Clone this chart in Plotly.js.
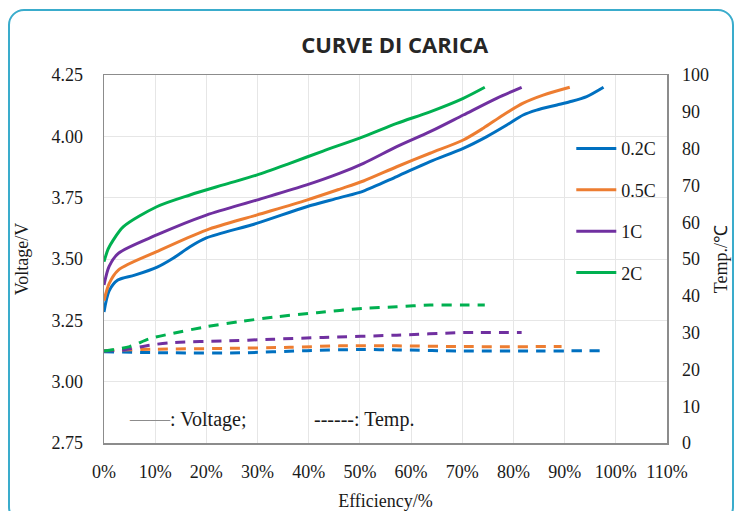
<!DOCTYPE html>
<html>
<head>
<meta charset="utf-8">
<script src="https://cdn.plot.ly/plotly-3.0.1.min.js"></script>
<style>
  html, body { margin: 0; padding: 0; background: #ffffff; }
  #wrap { position: relative; width: 735px; height: 511px; overflow: hidden; }
  #chart { width: 735px; height: 511px; }
  #frame { position: absolute; left: 8px; top: 9px; width: 722px; height: 510px;
           border: 2px solid #3aaccc; border-radius: 16px; pointer-events: none; }
</style>
</head>
<body>
<div id="wrap">
  <div id="chart"></div>
  <div id="frame"></div>
</div>
<script>
// ---- Data ----
const seriesNames = ["0.2C", "0.5C", "1C", "2C"];

// Voltage curves (x = efficiency fraction, y = voltage V)
const v02x = [0, 0.01, 0.027, 0.06, 0.104, 0.135, 0.168, 0.20, 0.298, 0.396, 0.461, 0.507, 0.572, 0.637, 0.702, 0.748, 0.787, 0.819, 0.845, 0.885, 0.91, 0.943, 0.976];
const v02y = [3.284, 3.37, 3.414, 3.434, 3.467, 3.503, 3.55, 3.586, 3.645, 3.713, 3.75, 3.777, 3.836, 3.897, 3.951, 3.999, 4.046, 4.087, 4.107, 4.128, 4.141, 4.162, 4.20];

const v05x = [0, 0.01, 0.028, 0.103, 0.20, 0.298, 0.396, 0.461, 0.507, 0.572, 0.637, 0.702, 0.741, 0.78, 0.819, 0.858, 0.91];
const v05y = [3.33, 3.40, 3.455, 3.53, 3.618, 3.679, 3.74, 3.785, 3.818, 3.876, 3.931, 3.985, 4.033, 4.087, 4.135, 4.168, 4.20];

const v1x = [0, 0.01, 0.028, 0.103, 0.20, 0.298, 0.396, 0.461, 0.507, 0.572, 0.637, 0.702, 0.767, 0.816];
const v1y = [3.394, 3.47, 3.523, 3.598, 3.679, 3.74, 3.802, 3.85, 3.89, 3.958, 4.019, 4.087, 4.155, 4.20];

const v2x = [0, 0.008, 0.018, 0.038, 0.103, 0.168, 0.233, 0.298, 0.363, 0.428, 0.507, 0.572, 0.637, 0.702, 0.744];
const v2y = [3.489, 3.54, 3.577, 3.632, 3.713, 3.761, 3.802, 3.842, 3.89, 3.94, 3.999, 4.053, 4.10, 4.155, 4.20];

// Temperature curves (x = efficiency fraction, y = temperature °C)
const t02x = [0, 0.135, 0.266, 0.396, 0.50, 0.572, 0.70, 0.85, 0.976];
const t02y = [24.8, 24.5, 24.5, 25.1, 25.4, 25.3, 25.0, 25.0, 25.1];

const t05x = [0, 0.103, 0.233, 0.363, 0.461, 0.572, 0.702, 0.894];
const t05y = [25.1, 25.5, 25.7, 26.0, 26.4, 26.4, 26.2, 26.2];

const t1x = [0, 0.038, 0.09, 0.135, 0.233, 0.33, 0.428, 0.572, 0.702, 0.816];
const t1y = [25.0, 25.3, 26.6, 27.3, 27.7, 28.2, 28.7, 29.3, 30.0, 30.0];

const t2x = [0, 0.05, 0.09, 0.135, 0.20, 0.266, 0.337, 0.416, 0.507, 0.572, 0.637, 0.702, 0.744];
const t2y = [25.0, 26.2, 28.4, 29.8, 31.6, 33.0, 34.3, 35.4, 36.6, 37.0, 37.5, 37.5, 37.5];

// ---- Styles ----
const colors = ["#0070C0", "#ED7D31", "#7030A0", "#00B050"];
const serif = "Liberation Serif";
const fs = 18;

const volt = [[v02x, v02y], [v05x, v05y], [v1x, v1y], [v2x, v2y]];
const temp = [[t02x, t02y], [t05x, t05y], [t1x, t1y], [t2x, t2y]];

const traces = [];
volt.forEach((d, i) => {
  traces.push({
    x: d[0], y: d[1], type: "scatter", mode: "lines", name: seriesNames[i],
    legendgroup: "g" + i,
    line: { color: colors[i], width: 3, shape: "spline", smoothing: 0.8 },
    yaxis: "y", hoverinfo: "x+y"
  });
});
temp.forEach((d, i) => {
  traces.push({
    x: d[0], y: d[1], type: "scatter", mode: "lines", name: seriesNames[i] + " Temp.",
    showlegend: false,
    line: { color: colors[i], width: 3, dash: "10px,8px", shape: "spline", smoothing: 0.8 },
    yaxis: "y2", hoverinfo: "x+y"
  });
});

const tf = { family: serif, size: fs, color: "#1a1a1a" };
const af = { family: serif, size: 20, color: "#1a1a1a" };

const layout = {
  width: 735, height: 511,
  margin: { l: 104, r: 68, t: 75, b: 68 },
  paper_bgcolor: "#ffffff", plot_bgcolor: "#ffffff",
  title: {
    text: "<b>CURVE DI CARICA</b>",
    font: { family: "Open Sans", size: 22, color: "#262626" },
    x: 0.537, xanchor: "center", y: 0.912, yanchor: "middle"
  },
  font: tf,
  showlegend: true,
  legend: {
    x: 0.83, y: 0.85, xanchor: "left", yanchor: "top",
    bgcolor: "rgba(0,0,0,0)", font: tf,
    tracegroupgap: 15, itemwidth: 40
  },
  xaxis: {
    range: [0, 1.1], dtick: 0.1, tick0: 0, tickformat: ".0%",
    showgrid: true, gridcolor: "#e6e6e6", gridwidth: 1,
    showline: true, linecolor: "#8c8c8c", linewidth: 1.5, mirror: true,
    ticks: "", ticklabelstandoff: 12, zeroline: false,
    tickfont: tf,
    title: { text: "Efficiency/%", font: tf, standoff: 14 }
  },
  yaxis: {
    range: [2.75, 4.25], dtick: 0.25, tick0: 2.75, tickformat: ".2f",
    showgrid: true, gridcolor: "#e6e6e6", gridwidth: 1,
    showline: true, linecolor: "#8c8c8c", linewidth: 1.5, mirror: true,
    ticks: "", ticklabelstandoff: 16, zeroline: false,
    tickfont: tf,
    title: { text: "Voltage/V", font: tf, standoff: 18 }
  },
  yaxis2: {
    range: [0, 100], dtick: 10, tick0: 0, overlaying: "y", side: "right",
    showgrid: false, showline: false, zeroline: false,
    ticks: "", ticklabelstandoff: 14,
    tickfont: tf,
    title: { text: "Temp./℃", font: tf, standoff: 6 }
  },
  annotations: [
    {
      xref: "paper", yref: "paper", x: 0.04, y: 0.065, xanchor: "left", yanchor: "middle",
      text: "<span style='color:#8c8c8c'>——</span>: Voltage;", showarrow: false,
      font: af
    },
    {
      xref: "paper", yref: "paper", x: 0.369, y: 0.065, xanchor: "left", yanchor: "middle",
      text: "------: Temp.", showarrow: false,
      font: af
    }
  ]
};

Plotly.newPlot("chart", traces, layout, { displayModeBar: false, staticPlot: true });
</script>
</body>
</html>
